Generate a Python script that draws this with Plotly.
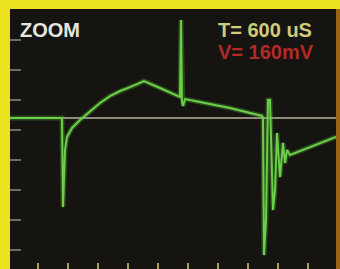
import plotly.graph_objects as go

# Time axis in microseconds (600 uS / div), voltage in mV (160 mV / div)
t_us = [-560, 480, 500, 520, 540, 580, 680, 840, 1040, 1240, 1440, 1640, 1840, 2000, 2120,
        2440, 2820, 2840, 2860, 2880, 2900, 2940, 3240, 3840, 4480, 4500, 4520, 4560, 4600,
        4640, 4700, 4740, 4780, 4840, 4900, 4940, 4980, 5040, 5960]
v_mV = [0, 0, -475, -304, -171, -101, -53, -11, 37, 80, 117, 144, 165, 181, 197,
        160, 117, 112, 523, 85, 64, 101, 85, 53, 11, 0, -731, -544, 96,
        96, -491, -384, -80, -315, -133, -240, -171, -197, -101]

x_ticks = [0, 600, 1200, 1800, 2400, 3000, 3600, 4200, 4800, 5400]
y_ticks = [416, 256, 96, -64, -224, -384, -544, -704]

title_text = "ZOOM"
time_text = "T= 600 uS"
volt_text = "V= 160mV"

fig = go.Figure()
fig.add_trace(go.Scatter(x=t_us, y=v_mV, mode="lines",
                         line=dict(color="rgba(90,200,60,0.30)", width=5),
                         hoverinfo="skip", showlegend=False))
fig.add_trace(go.Scatter(x=t_us, y=v_mV, mode="lines",
                         line=dict(color="#6ccf48", width=2),
                         showlegend=False))

fig.add_shape(type="line", xref="paper", x0=0, x1=1, yref="y", y0=0, y1=0,
              line=dict(color="#b8b29e", width=1.5), layer="below")
# thin orange strip at right edge
fig.add_shape(type="rect", xref="paper", x0=1.0, x1=1.02, yref="paper", y0=-0.05, y1=1.0,
              fillcolor="#9a6412", line=dict(width=0), layer="above")

fig.add_annotation(text=title_text, xref="paper", yref="paper", x=0.024, y=0.919,
                   xanchor="left", yanchor="middle", showarrow=False,
                   font=dict(family="Liberation Sans", size=20, color="#e6e6e0", weight="bold"))
fig.add_annotation(text=time_text, xref="paper", yref="paper", x=0.632, y=0.919,
                   xanchor="left", yanchor="middle", showarrow=False,
                   font=dict(family="Liberation Sans", size=20, color="#cfcb7a", weight="bold"))
fig.add_annotation(text=volt_text, xref="paper", yref="paper", x=0.632, y=0.836,
                   xanchor="left", yanchor="middle", showarrow=False,
                   font=dict(family="Liberation Sans", size=20, color="#b02a26", weight="bold"))

fig.update_layout(
    width=340, height=269,
    margin=dict(l=10, r=4, t=9, b=0, pad=0),
    paper_bgcolor="#ece21f",
    plot_bgcolor="#151410",
    showlegend=False,
    xaxis=dict(range=[-560, 5960], tickvals=x_ticks, ticks="inside", ticklen=6,
               tickwidth=2, tickcolor="#a89f5a", showticklabels=False,
               showgrid=False, zeroline=False, showline=False, automargin=False),
    yaxis=dict(range=[-805.3, 581.3], tickvals=y_ticks, ticks="inside", ticklen=11,
               tickwidth=1.5, tickcolor="#6e6c62", showticklabels=False,
               showgrid=False, zeroline=False, showline=False, automargin=False),
)

fig.write_html("out.html", config={"displayModeBar": False},
               post_script="document.body.style.margin='0';document.body.style.overflow='hidden';")
